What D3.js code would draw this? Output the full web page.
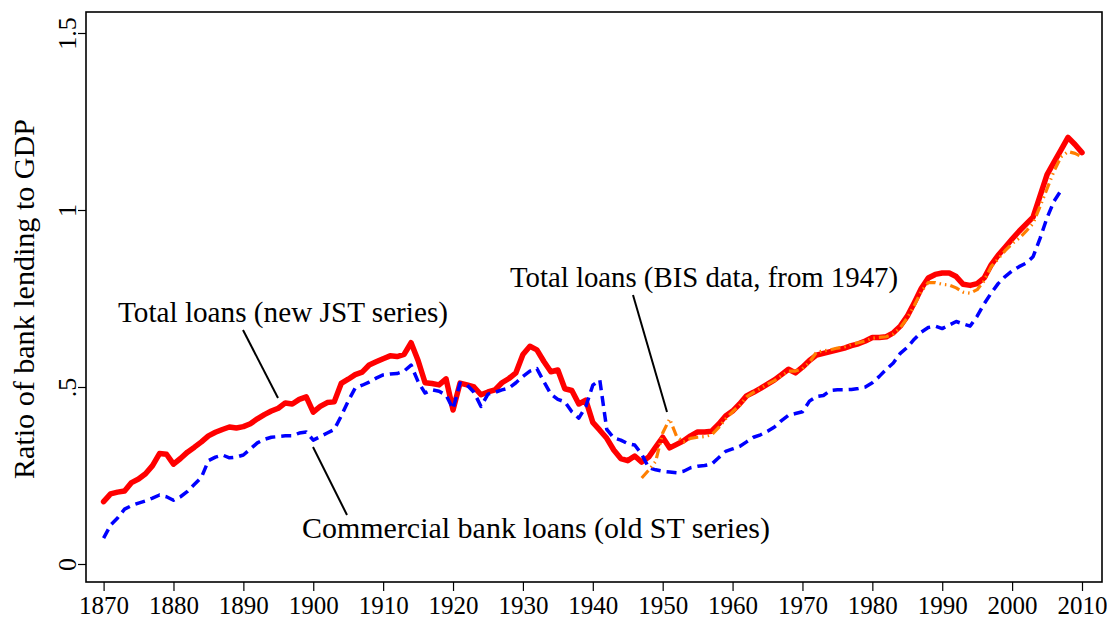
<!DOCTYPE html>
<html>
<head>
<meta charset="utf-8">
<script src="https://cdn.jsdelivr.net/npm/d3@7"></script>
<style>
  html, body { margin: 0; padding: 0; background: #fff; }
  svg { display: block; }
  text { font-family: "Liberation Serif", "Times New Roman", serif; fill: #000; }
</style>
</head>
<body>
<svg id="chart" width="1107" height="625"></svg>
<script>
// Total loans, new JST series (1870-2010)
const jstStart = 1870;
const jstValues = [
  0.176, 0.198, 0.203, 0.206, 0.230, 0.240, 0.255, 0.278, 0.312, 0.310,
  0.282, 0.298, 0.316, 0.330, 0.345, 0.362, 0.372, 0.380, 0.387, 0.384,
  0.388, 0.396, 0.410, 0.422, 0.432, 0.440, 0.455, 0.452, 0.465, 0.472,
  0.429, 0.445, 0.456, 0.458, 0.510, 0.522, 0.535, 0.542, 0.562, 0.571,
  0.580, 0.588, 0.586, 0.592, 0.625, 0.575, 0.512, 0.510, 0.506, 0.523,
  0.435, 0.511, 0.506, 0.500, 0.478, 0.486, 0.492, 0.512, 0.524, 0.540,
  0.592, 0.615, 0.605, 0.572, 0.543, 0.548, 0.495, 0.490, 0.452, 0.463,
  0.400, 0.378, 0.355, 0.322, 0.298, 0.292, 0.305, 0.288, 0.302, 0.330,
  0.358, 0.328, 0.338, 0.348, 0.362, 0.373, 0.373, 0.375, 0.395, 0.418,
  0.432, 0.452, 0.475, 0.485, 0.496, 0.508, 0.520, 0.535, 0.550, 0.540,
  0.556, 0.575, 0.590, 0.595, 0.600, 0.605, 0.610, 0.617, 0.622, 0.630,
  0.640, 0.640, 0.642, 0.653, 0.672, 0.700, 0.738, 0.778, 0.808, 0.818,
  0.822, 0.822, 0.812, 0.790, 0.787, 0.792, 0.808, 0.845, 0.872, 0.895,
  0.918, 0.940, 0.960, 0.980, 1.040, 1.100, 1.135, 1.170, 1.205, 1.185,
  1.162
];

// Commercial bank loans, old ST series (1870-2007)
const stStart = 1870;
const stValues = [
  0.073, 0.110, 0.130, 0.155, 0.165, 0.172, 0.178, 0.186, 0.195, 0.190,
  0.180, 0.190, 0.205, 0.225, 0.245, 0.292, 0.302, 0.308, 0.300, 0.302,
  0.308, 0.325, 0.342, 0.352, 0.358, 0.360, 0.362, 0.362, 0.370, 0.373,
  0.350, 0.360, 0.370, 0.380, 0.418, 0.460, 0.497, 0.505, 0.514, 0.525,
  0.534, 0.537, 0.538, 0.545, 0.562, 0.515, 0.483, 0.492, 0.488, 0.477,
  0.438, 0.511, 0.506, 0.485, 0.445, 0.480, 0.485, 0.492, 0.497, 0.512,
  0.530, 0.545, 0.552, 0.515, 0.480, 0.465, 0.458, 0.430, 0.412, 0.445,
  0.505, 0.520, 0.380, 0.356, 0.350, 0.340, 0.336, 0.310, 0.272, 0.266,
  0.262, 0.260, 0.258, 0.262, 0.272, 0.276, 0.278, 0.282, 0.300, 0.318,
  0.325, 0.332, 0.345, 0.358, 0.365, 0.375, 0.387, 0.405, 0.420, 0.425,
  0.430, 0.460, 0.473, 0.476, 0.490, 0.492, 0.492, 0.493, 0.496, 0.500,
  0.512, 0.530, 0.550, 0.568, 0.595, 0.612, 0.635, 0.655, 0.668, 0.672,
  0.665, 0.675, 0.685, 0.678, 0.672, 0.700, 0.735, 0.765, 0.792, 0.812,
  0.828, 0.840, 0.850, 0.868, 0.920, 0.978, 1.025, 1.055
];

// Total loans, BIS data (1947-2010)
const bisStart = 1947;
const bisValues = [
  0.243, 0.265, 0.290, 0.370, 0.410, 0.360, 0.345, 0.355, 0.358, 0.360,
  0.365, 0.385, 0.410, 0.430, 0.448, 0.472, 0.485, 0.496, 0.508, 0.518,
  0.532, 0.545, 0.545, 0.552, 0.570, 0.598, 0.602, 0.605, 0.610, 0.613,
  0.620, 0.625, 0.630, 0.638, 0.640, 0.642, 0.650, 0.668, 0.695, 0.730,
  0.770, 0.795, 0.795, 0.790, 0.788, 0.780, 0.768, 0.765, 0.775, 0.800,
  0.840, 0.862, 0.885, 0.905, 0.920, 0.940, 0.962, 1.010, 1.060, 1.110,
  1.150, 1.165, 1.160, 1.150
];

const xTicks = [1870, 1880, 1890, 1900, 1910, 1920, 1930, 1940, 1950, 1960, 1970, 1980, 1990, 2000, 2010];
const yTicks = [0, 0.5, 1, 1.5];
const yTickLabels = ['0', '.5', '1', '1.5'];

const toPoints = (start, vals) => vals.map((v, i) => ({ year: start + i, value: v }));

const svg = d3.select('#chart');

// frame of the plot region
const frame = { left: 86, top: 12, right: 1102, bottom: 582 };

const x = d3.scaleLinear().domain([1870, 2010]).range([103.6, 1082]);
const y = d3.scaleLinear().domain([0, 1.5]).range([564, 33]);

svg.append('rect')
  .attr('x', frame.left)
  .attr('y', frame.top)
  .attr('width', frame.right - frame.left)
  .attr('height', frame.bottom - frame.top)
  .attr('fill', 'none')
  .attr('stroke', '#000')
  .attr('stroke-width', 1.6);

// x axis below frame
const xAxis = d3.axisBottom(x).tickValues(xTicks).tickFormat(d3.format('d')).tickSize(9).tickPadding(5);
const gx = svg.append('g').attr('transform', `translate(0,${frame.bottom})`).call(xAxis);
gx.select('.domain').remove();
gx.selectAll('.tick line').attr('stroke', '#000').attr('stroke-width', 1.2);
gx.selectAll('.tick text')
  .attr('font-family', '"Liberation Serif", serif')
  .attr('font-size', 25)
  .attr('fill', '#000');

// y axis left of frame, labels rotated
const yAxis = d3.axisLeft(y).tickValues(yTicks).tickFormat((d, i) => yTickLabels[i]).tickSize(8).tickPadding(0);
const gy = svg.append('g').attr('transform', `translate(${frame.left},0)`).call(yAxis);
gy.select('.domain').remove();
gy.selectAll('.tick line').attr('stroke', '#000').attr('stroke-width', 1.2);
gy.selectAll('.tick text')
  .attr('x', null).attr('dy', null)
  .attr('transform', 'translate(-10,0) rotate(-90)')
  .attr('text-anchor', 'middle')
  .attr('font-family', '"Liberation Serif", serif')
  .attr('font-size', 26)
  .attr('fill', '#000');

svg.append('text')
  .attr('transform', `translate(34,${299}) rotate(-90)`)
  .attr('text-anchor', 'middle')
  .attr('font-size', 30)
  .attr('textLength', 360)
  .attr('lengthAdjust', 'spacingAndGlyphs')
  .text('Ratio of bank lending to GDP');

const line = d3.line().x(d => x(d.year)).y(d => y(d.value));

svg.append('path')
  .datum(toPoints(jstStart, jstValues))
  .attr('d', line)
  .attr('fill', 'none')
  .attr('stroke', '#ff0000')
  .attr('stroke-width', 5.5)
  .attr('stroke-linejoin', 'round')
  .attr('stroke-linecap', 'round');

svg.append('path')
  .datum(toPoints(stStart, stValues))
  .attr('d', line)
  .attr('fill', 'none')
  .attr('stroke', '#0000ff')
  .attr('stroke-width', 3.5)
  .attr('stroke-dasharray', '10,6')
  .attr('stroke-linejoin', 'round');

svg.append('path')
  .datum(toPoints(bisStart, bisValues))
  .attr('d', line)
  .attr('fill', 'none')
  .attr('stroke', '#ff7f00')
  .attr('stroke-width', 3.2)
  .attr('stroke-dasharray', '10,4,1.5,4,1.5,4')
  .attr('stroke-linejoin', 'round');

// annotations: label text + pointer line
const notes = [
  { text: 'Total loans (new JST series)', tx: 118, ty: 322, w: 330, x1: 243, y1: 330, x2: 278, y2: 398 },
  { text: 'Commercial bank loans (old ST series)', tx: 302, ty: 538, w: 468, x1: 313, y1: 447, x2: 347, y2: 515 },
  { text: 'Total loans (BIS data, from 1947)', tx: 510, ty: 287, w: 388, x1: 633, y1: 295, x2: 667, y2: 412 }
];

const ann = svg.append('g');
ann.selectAll('line')
  .data(notes)
  .join('line')
  .attr('x1', d => d.x1).attr('y1', d => d.y1)
  .attr('x2', d => d.x2).attr('y2', d => d.y2)
  .attr('stroke', '#000')
  .attr('stroke-width', 2);

ann.selectAll('text')
  .data(notes)
  .join('text')
  .attr('x', d => d.tx)
  .attr('y', d => d.ty)
  .attr('font-size', 29)
  .attr('textLength', d => d.w)
  .attr('lengthAdjust', 'spacingAndGlyphs')
  .text(d => d.text);
</script>
</body>
</html>
